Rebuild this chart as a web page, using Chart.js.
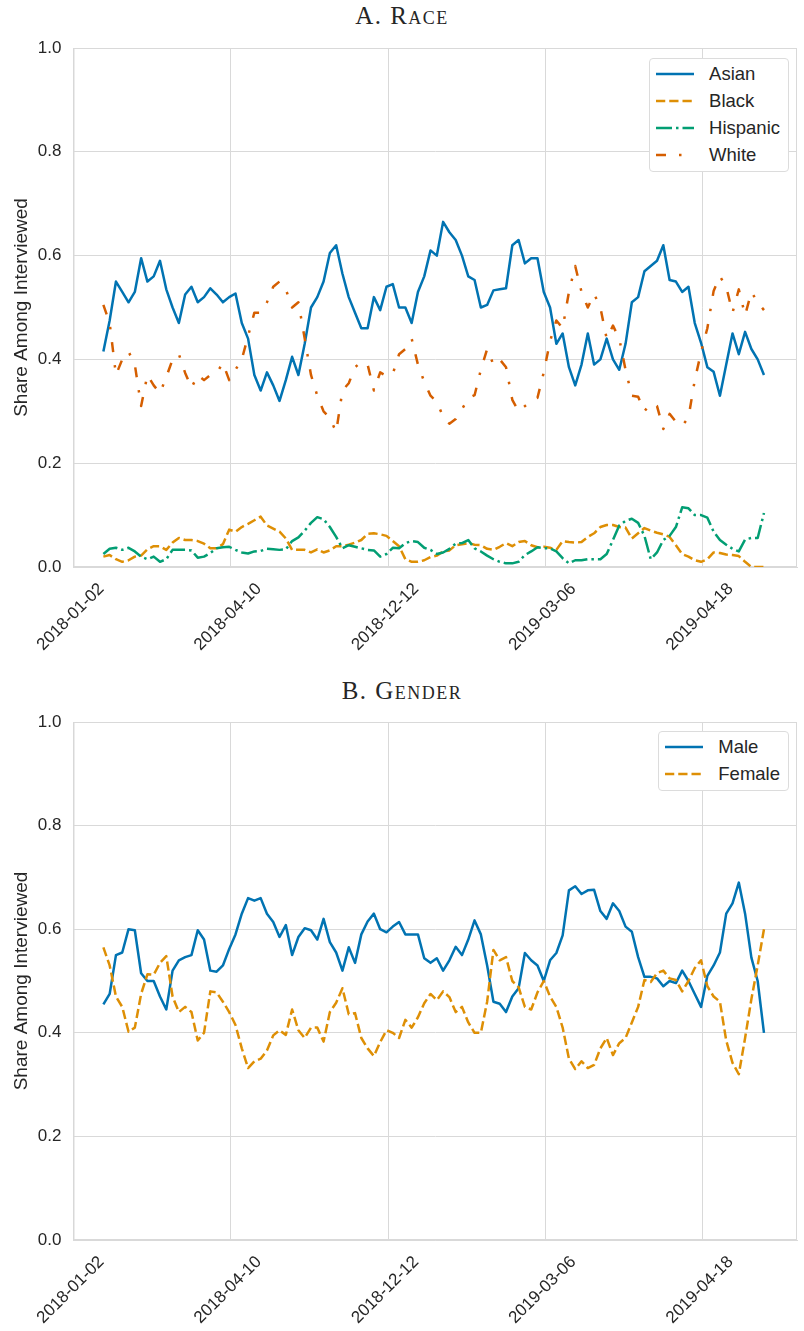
<!DOCTYPE html>
<html>
<head>
<meta charset="utf-8">
<script src="https://cdn.jsdelivr.net/npm/chart.js@4.4.0/dist/chart.umd.min.js"></script>
<style>
  body { margin: 0; background: #fff; width: 804px; height: 1331px; position: relative; overflow: hidden; }
  canvas { position: absolute; left: 0; }
  .panel-title { position: absolute; left: 0; width: 804px; text-align: center; font-family: "Liberation Serif", "DejaVu Serif", serif; font-variant: small-caps; font-size: 25px; letter-spacing: 1.5px; color: #262626; line-height: 28px; }
  .legend { position: absolute; background: #fff; border: 1px solid #dcdcdc; border-radius: 4px; padding: 1px 8px 3px 6px; font-family: "Liberation Sans", Arial, sans-serif; font-size: 18.5px; color: #262626; }
  .legend .row { display: flex; align-items: center; height: 27px; white-space: nowrap; }
  .legend svg { margin-right: 15px; }
</style>
</head>
<body>
<div class="panel-title" style="top:2px">A. Race</div>
<canvas id="chartA" width="804" height="660" style="top:0"></canvas>
<div class="panel-title" style="top:677px">B. Gender</div>
<canvas id="chartB" width="804" height="671" style="top:660px"></canvas>

<script>
// x positions (trading-day index) of each plotted observation
const days = [19, 23, 27, 31, 35, 39, 43, 47, 51, 55, 59, 63, 67, 71, 75, 79, 83, 87, 91, 95,
  99, 103, 107, 111, 115, 119, 123, 127, 131, 135, 139, 143, 147, 151, 155, 159, 163, 167, 171, 175,
  179, 183, 187, 191, 195, 199, 203, 207, 211, 215, 219, 223, 227, 231, 235, 239, 243, 247, 251, 255,
  259, 263, 267, 271, 275, 279, 283, 287, 291, 295, 299, 303, 307, 311, 315, 319, 323, 327, 331, 335,
  339, 343, 347, 351, 355, 359, 363, 367, 371, 375, 379, 383, 387, 391, 395, 399, 403, 407, 411, 415,
  419, 423, 427, 431, 435, 439];

const tickDays = [0, 100, 200, 300, 400];
const tickLabels = ['2018-01-02', '2018-04-10', '2018-12-12', '2019-03-06', '2019-04-18'];

// Panel A: race shares
const asian = [0.415, 0.475, 0.55, 0.53, 0.51, 0.53, 0.595, 0.55, 0.56, 0.59,
  0.535, 0.50, 0.47, 0.525, 0.54, 0.51, 0.52, 0.537, 0.525, 0.51,
  0.52, 0.527, 0.47, 0.44, 0.37, 0.34, 0.375, 0.35, 0.32, 0.36,
  0.405, 0.37, 0.43, 0.50, 0.52, 0.55, 0.605, 0.62, 0.565, 0.52,
  0.49, 0.46, 0.46, 0.52, 0.495, 0.54, 0.545, 0.50, 0.50, 0.47,
  0.53, 0.56, 0.61, 0.60, 0.665, 0.645, 0.63, 0.60, 0.56, 0.553,
  0.50, 0.505, 0.533, 0.535, 0.537, 0.62, 0.63, 0.585, 0.595, 0.595,
  0.53, 0.50, 0.43, 0.45, 0.385, 0.35, 0.39, 0.45, 0.39, 0.40,
  0.44, 0.40, 0.38, 0.43, 0.51, 0.52, 0.57, 0.58, 0.59, 0.62,
  0.553, 0.55, 0.53, 0.54, 0.47, 0.432, 0.385, 0.376, 0.33, 0.39,
  0.45, 0.41, 0.453, 0.42, 0.40, 0.37];

const black = [0.02, 0.023, 0.015, 0.01, 0.013, 0.02, 0.022, 0.034, 0.04, 0.04,
  0.033, 0.047, 0.056, 0.052, 0.052, 0.05, 0.045, 0.036, 0.036, 0.044,
  0.072, 0.068, 0.077, 0.083, 0.09, 0.097, 0.08, 0.074, 0.068, 0.055,
  0.033, 0.033, 0.033, 0.028, 0.034, 0.028, 0.032, 0.04, 0.04, 0.043,
  0.047, 0.052, 0.064, 0.065, 0.063, 0.06, 0.05, 0.04, 0.015, 0.01,
  0.01, 0.013, 0.019, 0.022, 0.03, 0.032, 0.042, 0.044, 0.046, 0.043,
  0.042, 0.035, 0.033, 0.039, 0.046, 0.04, 0.048, 0.05, 0.042, 0.038,
  0.039, 0.037, 0.033, 0.05, 0.048, 0.047, 0.048, 0.058, 0.065, 0.077,
  0.081, 0.081, 0.077, 0.076, 0.055, 0.065, 0.075, 0.07, 0.066, 0.063,
  0.058, 0.042, 0.025, 0.02, 0.013, 0.01, 0.015, 0.028, 0.027, 0.024,
  0.023, 0.021, 0.01, 0.0, 0.0, 0.0];

const hispanic = [0.025, 0.035, 0.037, 0.033, 0.037, 0.03, 0.02, 0.015, 0.02, 0.01,
  0.015, 0.033, 0.033, 0.033, 0.032, 0.018, 0.02, 0.027, 0.036, 0.038,
  0.039, 0.033, 0.028, 0.026, 0.03, 0.031, 0.035, 0.034, 0.033, 0.034,
  0.05, 0.057, 0.07, 0.085, 0.096, 0.092, 0.077, 0.058, 0.036, 0.042,
  0.039, 0.036, 0.033, 0.032, 0.02, 0.025, 0.037, 0.036, 0.046, 0.05,
  0.048, 0.037, 0.033, 0.025, 0.028, 0.035, 0.045, 0.046, 0.052, 0.036,
  0.03, 0.022, 0.015, 0.01, 0.007, 0.007, 0.01, 0.023, 0.03, 0.038,
  0.036, 0.036, 0.03, 0.017, 0.007, 0.013, 0.013, 0.015, 0.015, 0.015,
  0.025, 0.052, 0.08, 0.089, 0.093, 0.085, 0.06, 0.015, 0.028, 0.052,
  0.06, 0.077, 0.115, 0.113, 0.1, 0.1, 0.095, 0.068, 0.052, 0.043,
  0.035, 0.03, 0.053, 0.056, 0.056, 0.104];

const white = [0.505, 0.47, 0.37, 0.40, 0.415, 0.39, 0.31, 0.37, 0.35, 0.335,
  0.366, 0.40, 0.41, 0.374, 0.345, 0.37, 0.36, 0.37, 0.374, 0.393,
  0.36, 0.38, 0.40, 0.445, 0.49, 0.49, 0.51, 0.54, 0.55, 0.535,
  0.50, 0.51, 0.44, 0.37, 0.33, 0.30, 0.287, 0.26, 0.34, 0.354,
  0.385, 0.395, 0.39, 0.34, 0.375, 0.368, 0.372, 0.41, 0.42, 0.44,
  0.39, 0.357, 0.33, 0.318, 0.29, 0.276, 0.285, 0.304, 0.325, 0.331,
  0.38, 0.42, 0.39, 0.40, 0.385, 0.322, 0.30, 0.31, 0.32, 0.326,
  0.375, 0.435, 0.475, 0.46, 0.53, 0.58, 0.53, 0.50, 0.526, 0.50,
  0.44, 0.465, 0.44, 0.38, 0.33, 0.328, 0.30, 0.315, 0.31, 0.266,
  0.295, 0.28, 0.272, 0.288, 0.36, 0.414, 0.46, 0.532, 0.56, 0.54,
  0.49, 0.535, 0.485, 0.53, 0.51, 0.495];

// Panel B: gender shares
const male = [0.455, 0.475, 0.55, 0.555, 0.60, 0.598, 0.515, 0.50, 0.50, 0.47,
  0.445, 0.52, 0.54, 0.546, 0.55, 0.598, 0.58, 0.52, 0.518, 0.53,
  0.562, 0.59, 0.63, 0.66, 0.655, 0.66, 0.63, 0.614, 0.585, 0.608,
  0.55, 0.585, 0.602, 0.598, 0.58, 0.62, 0.575, 0.555, 0.52, 0.565,
  0.535, 0.59, 0.615, 0.63, 0.60, 0.594, 0.605, 0.614, 0.59, 0.59,
  0.59, 0.544, 0.535, 0.544, 0.52, 0.54, 0.566, 0.55, 0.58, 0.617,
  0.59, 0.53, 0.46, 0.456, 0.44, 0.47, 0.486, 0.554, 0.54, 0.53,
  0.50, 0.54, 0.554, 0.588, 0.675, 0.683, 0.668, 0.675, 0.676, 0.635,
  0.62, 0.65, 0.635, 0.605, 0.595, 0.546, 0.508, 0.508, 0.505, 0.49,
  0.50, 0.496, 0.52, 0.50, 0.475, 0.45, 0.51, 0.53, 0.555, 0.63,
  0.65, 0.69, 0.63, 0.545, 0.50, 0.40];

const female = [0.565, 0.53, 0.47, 0.45, 0.402, 0.41, 0.475, 0.513, 0.512, 0.535,
  0.548, 0.47, 0.44, 0.45, 0.44, 0.385, 0.40, 0.48, 0.478, 0.46,
  0.44, 0.415, 0.37, 0.332, 0.345, 0.35, 0.366, 0.395, 0.405, 0.396,
  0.445, 0.405, 0.39, 0.41, 0.41, 0.383, 0.44, 0.458, 0.486, 0.436,
  0.438, 0.39, 0.37, 0.355, 0.382, 0.405, 0.40, 0.39, 0.425, 0.41,
  0.43, 0.457, 0.475, 0.463, 0.48, 0.469, 0.44, 0.45, 0.42, 0.40,
  0.40, 0.46, 0.56, 0.54, 0.546, 0.50, 0.488, 0.45, 0.445, 0.478,
  0.50, 0.47, 0.45, 0.41, 0.35, 0.33, 0.345, 0.332, 0.338, 0.37,
  0.39, 0.357, 0.38, 0.39, 0.42, 0.45, 0.502, 0.498, 0.515, 0.52,
  0.505, 0.502, 0.48, 0.50, 0.525, 0.54, 0.49, 0.47, 0.46, 0.385,
  0.342, 0.32, 0.39, 0.465, 0.53, 0.60];

const BLUE = '#0173b2', ORANGE = '#de8f05', GREEN = '#029e73', RED = '#d55e00';
const GRID = '#d9d9d9';
const TEXT = '#262626';
const FONT = '"Liberation Sans", Arial, sans-serif';

const DASH_SOLID = [];
const DASH_DASHED = [9.25, 4];
const DASH_DASHDOT = [16, 4, 2.5, 4];
const DASH_LOOSE = [10, 13, 2.5, 13];

Chart.defaults.font.family = FONT;

function series(label, values, color, dash, order) {
  return {
    label: label,
    data: values.map((v, i) => ({ x: days[i], y: v })),
    borderColor: color,
    backgroundColor: color,
    borderWidth: 2.5,
    borderDash: dash,
    borderJoinStyle: 'round',
    pointRadius: 0,
    tension: 0,
    fill: false,
    order: order
  };
}

// light frame round the plot area, like the seaborn whitegrid spines
const frame = {
  id: 'frame',
  beforeDatasetsDraw(chart) {
    const { ctx, chartArea: a } = chart;
    ctx.save();
    ctx.strokeStyle = GRID;
    ctx.lineWidth = 1;
    ctx.strokeRect(a.left + 0.5, a.top + 0.5, a.width - 1, a.height - 1);
    ctx.restore();
  }
};

function makeChart(canvas, datasets, padTop, axisHeight) {
  return new Chart(canvas, {
    type: 'line',
    data: { datasets: datasets },
    options: {
      responsive: false,
      animation: false,
      layout: { padding: { top: padTop, right: 7, bottom: 0, left: 0 } },
      plugins: { legend: { display: false }, tooltip: { enabled: false } },
      scales: {
        x: {
          type: 'linear',
          min: 0,
          max: 460,
          afterBuildTicks: s => { s.ticks = tickDays.map(v => ({ value: v })); },
          afterFit: s => { s.height = axisHeight; },
          grid: { color: GRID, drawTicks: false },
          border: { display: true, color: GRID },
          ticks: {
            autoSkip: false,
            maxRotation: 45,
            minRotation: 45,
            padding: 12,
            labelOffset: 28,
            color: TEXT,
            font: { size: 17 },
            callback: v => tickLabels[tickDays.indexOf(v)]
          }
        },
        y: {
          min: 0,
          max: 1,
          afterFit: s => { s.width = 70; },
          grid: { color: GRID, drawTicks: false },
          border: { display: true, color: GRID },
          ticks: {
            stepSize: 0.2,
            padding: 12,
            color: TEXT,
            font: { size: 17 },
            callback: v => v.toFixed(1)
          },
          title: {
            display: true,
            text: 'Share Among Interviewed',
            color: TEXT,
            font: { size: 19 },
            padding: { top: 7, bottom: 0 }
          }
        }
      }
    },
    plugins: [frame]
  });
}

const raceSets = [
  series('Asian', asian, BLUE, DASH_SOLID, 4),
  series('Black', black, ORANGE, DASH_DASHED, 3),
  series('Hispanic', hispanic, GREEN, DASH_DASHDOT, 2),
  series('White', white, RED, DASH_LOOSE, 1)
];
const genderSets = [
  series('Male', male, BLUE, DASH_SOLID, 2),
  series('Female', female, ORANGE, DASH_DASHED, 1)
];

makeChart(document.getElementById('chartA'), raceSets, 48, 93);
makeChart(document.getElementById('chartB'), genderSets, 62, 91);

// legend boxes, built from the same dataset styles
function addLegend(sets, right, top) {
  const box = document.createElement('div');
  box.className = 'legend';
  box.style.right = (804 - right) + 'px';
  box.style.top = top + 'px';
  sets.forEach(ds => {
    const row = document.createElement('div');
    row.className = 'row';
    const dash = ds.borderDash.length ? ds.borderDash.join(' ') : 'none';
    row.innerHTML = '<svg width="38" height="8"><line x1="0" y1="4" x2="38" y2="4" stroke="' +
      ds.borderColor + '" stroke-width="2.5" stroke-dasharray="' + dash + '"/></svg>';
    const label = document.createElement('span');
    label.textContent = ds.label;
    row.appendChild(label);
    box.appendChild(row);
  });
  document.body.appendChild(box);
}
addLegend(raceSets, 789, 58);
addLegend(genderSets, 789, 731);
</script>
</body>
</html>
